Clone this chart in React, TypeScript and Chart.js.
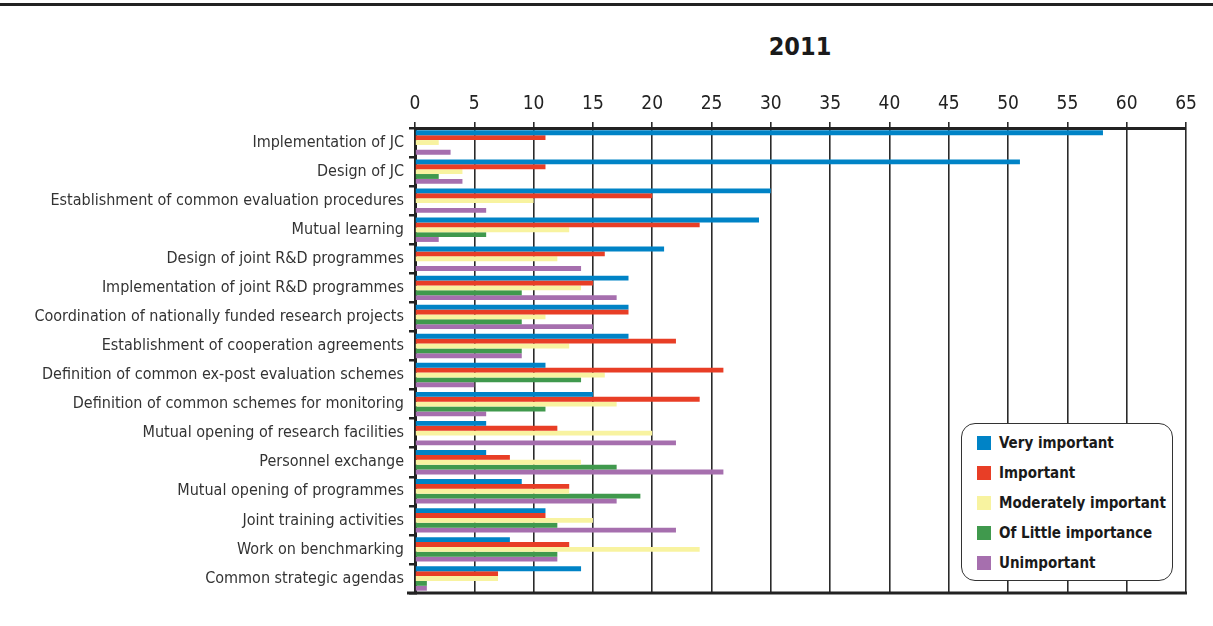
import React, { useEffect, useRef } from "react";
import { Chart, registerables } from "chart.js";

Chart.register(...registerables);

const categories = [
  "Implementation of JC",
  "Design of JC",
  "Establishment of common evaluation procedures",
  "Mutual learning",
  "Design of joint R&D programmes",
  "Implementation of joint R&D programmes",
  "Coordination of nationally funded research projects",
  "Establishment of cooperation agreements",
  "Definition of common ex-post evaluation schemes",
  "Definition of common schemes for monitoring",
  "Mutual opening of research facilities",
  "Personnel exchange",
  "Mutual opening of programmes",
  "Joint training activities",
  "Work on benchmarking",
  "Common strategic agendas",
];

const veryImportant = [58, 51, 30, 29, 21, 18, 18, 18, 11, 15, 6, 6, 9, 11, 8, 14];
const important = [11, 11, 20, 24, 16, 15, 18, 22, 26, 24, 12, 8, 13, 11, 13, 7];
const moderatelyImportant = [2, 4, 10, 13, 12, 14, 11, 13, 16, 17, 20, 14, 13, 15, 24, 7];
const littleImportance = [0, 2, 0, 6, 0, 9, 9, 9, 14, 11, 0, 17, 19, 12, 12, 1];
const unimportant = [3, 4, 6, 2, 14, 17, 15, 9, 5, 6, 22, 26, 17, 22, 12, 1];

const seriesNames = [
  "Very important",
  "Important",
  "Moderately important",
  "Of Little importance",
  "Unimportant",
];
const seriesColors = ["#0083c6", "#e83e26", "#f8f3a0", "#40994d", "#a66fae"];
const seriesData = [veryImportant, important, moderatelyImportant, littleImportance, unimportant];

const titleText = "2011";
const xMin = 0;
const xMax = 65;
const xStep = 5;

const FONT = "'Liberation Sans Narrow', 'DejaVu Sans Condensed', 'Liberation Sans', sans-serif";

const frameLines = {
  id: "frameLines",
  afterDraw(chart: any) {
    const { ctx, chartArea } = chart;
    ctx.save();
    ctx.strokeStyle = "#222";
    ctx.lineWidth = 3;
    ctx.beginPath();
    ctx.moveTo(chartArea.left - 8, chartArea.bottom);
    ctx.lineTo(chartArea.right + 1, chartArea.bottom);
    ctx.stroke();
    ctx.restore();
  },
};

export default function App() {
  const ref = useRef<HTMLCanvasElement | null>(null);

  useEffect(() => {
    if (!ref.current) return;
    const chart = new Chart(ref.current, {
      type: "bar",
      data: {
        labels: categories,
        datasets: seriesData.map((d, i) => ({
          label: seriesNames[i],
          data: d,
          backgroundColor: seriesColors[i],
          borderWidth: 0,
          barPercentage: 1,
          categoryPercentage: 0.84,
        })),
      },
      options: {
        indexAxis: "y",
        animation: false,
        responsive: false,
        maintainAspectRatio: false,
        layout: { padding: { top: 0, right: 27, bottom: 33, left: 0 } },
        plugins: {
          legend: { display: false },
          title: { display: false },
          tooltip: { enabled: false },
        },
        scales: {
          x: {
            position: "top",
            min: xMin,
            max: xMax,
            afterFit: (scale: any) => {
              scale.height = 128;
            },
            ticks: {
              stepSize: xStep,
              color: "#222",
              font: { family: FONT, size: 19 },
              padding: 7,
            },
            grid: {
              color: "#2a2a2a",
              lineWidth: 1.6,
              tickLength: 6,
              drawTicks: true,
            },
            border: { display: true, color: "#222", width: 3 },
          },
          y: {
            afterFit: (scale: any) => {
              scale.width = 415;
            },
            ticks: {
              color: "#333",
              font: { family: FONT, size: 16 },
              padding: 5,
              autoSkip: false,
            },
            grid: {
              offset: true,
              drawOnChartArea: false,
              drawTicks: true,
              tickLength: 6,
              color: "#222",
              lineWidth: 2.5,
            },
            border: { display: true, color: "#222", width: 3 },
          },
        },
      },
      plugins: [frameLines],
    } as any);
    return () => chart.destroy();
  }, []);

  return (
    <div style={{ position: "absolute", left: 0, top: 0, width: 1213, height: 626, background: "#fff", overflow: "hidden" }}>
      <div style={{ position: "absolute", left: 0, top: 3, width: 1213, height: 3, background: "#222" }} />
      <div
        style={{
          position: "absolute",
          left: 700,
          width: 200,
          top: 32,
          textAlign: "center",
          fontFamily: FONT,
          fontWeight: "bold",
          fontSize: 25,
          color: "#1a1a1a",
        }}
      >
        {titleText}
      </div>
      <canvas ref={ref} width={1213} height={626} style={{ position: "absolute", left: 0, top: 0 }} />
      <div
        style={{
          position: "absolute",
          left: 961,
          top: 423,
          width: 212,
          height: 158,
          border: "1.5px solid #333",
          borderRadius: 14,
          background: "#fff",
          boxSizing: "border-box",
          paddingTop: 4,
        }}
      >
        {seriesNames.map((n, i) => (
          <div key={n} style={{ display: "flex", alignItems: "center", height: 30, paddingLeft: 15, whiteSpace: "nowrap" }}>
            <div style={{ width: 14, height: 14, background: seriesColors[i], marginRight: 8, flex: "none" }} />
            <span style={{ fontFamily: FONT, fontWeight: "bold", fontSize: 15, color: "#1a1a1a" }}>{n}</span>
          </div>
        ))}
      </div>
    </div>
  );
}
